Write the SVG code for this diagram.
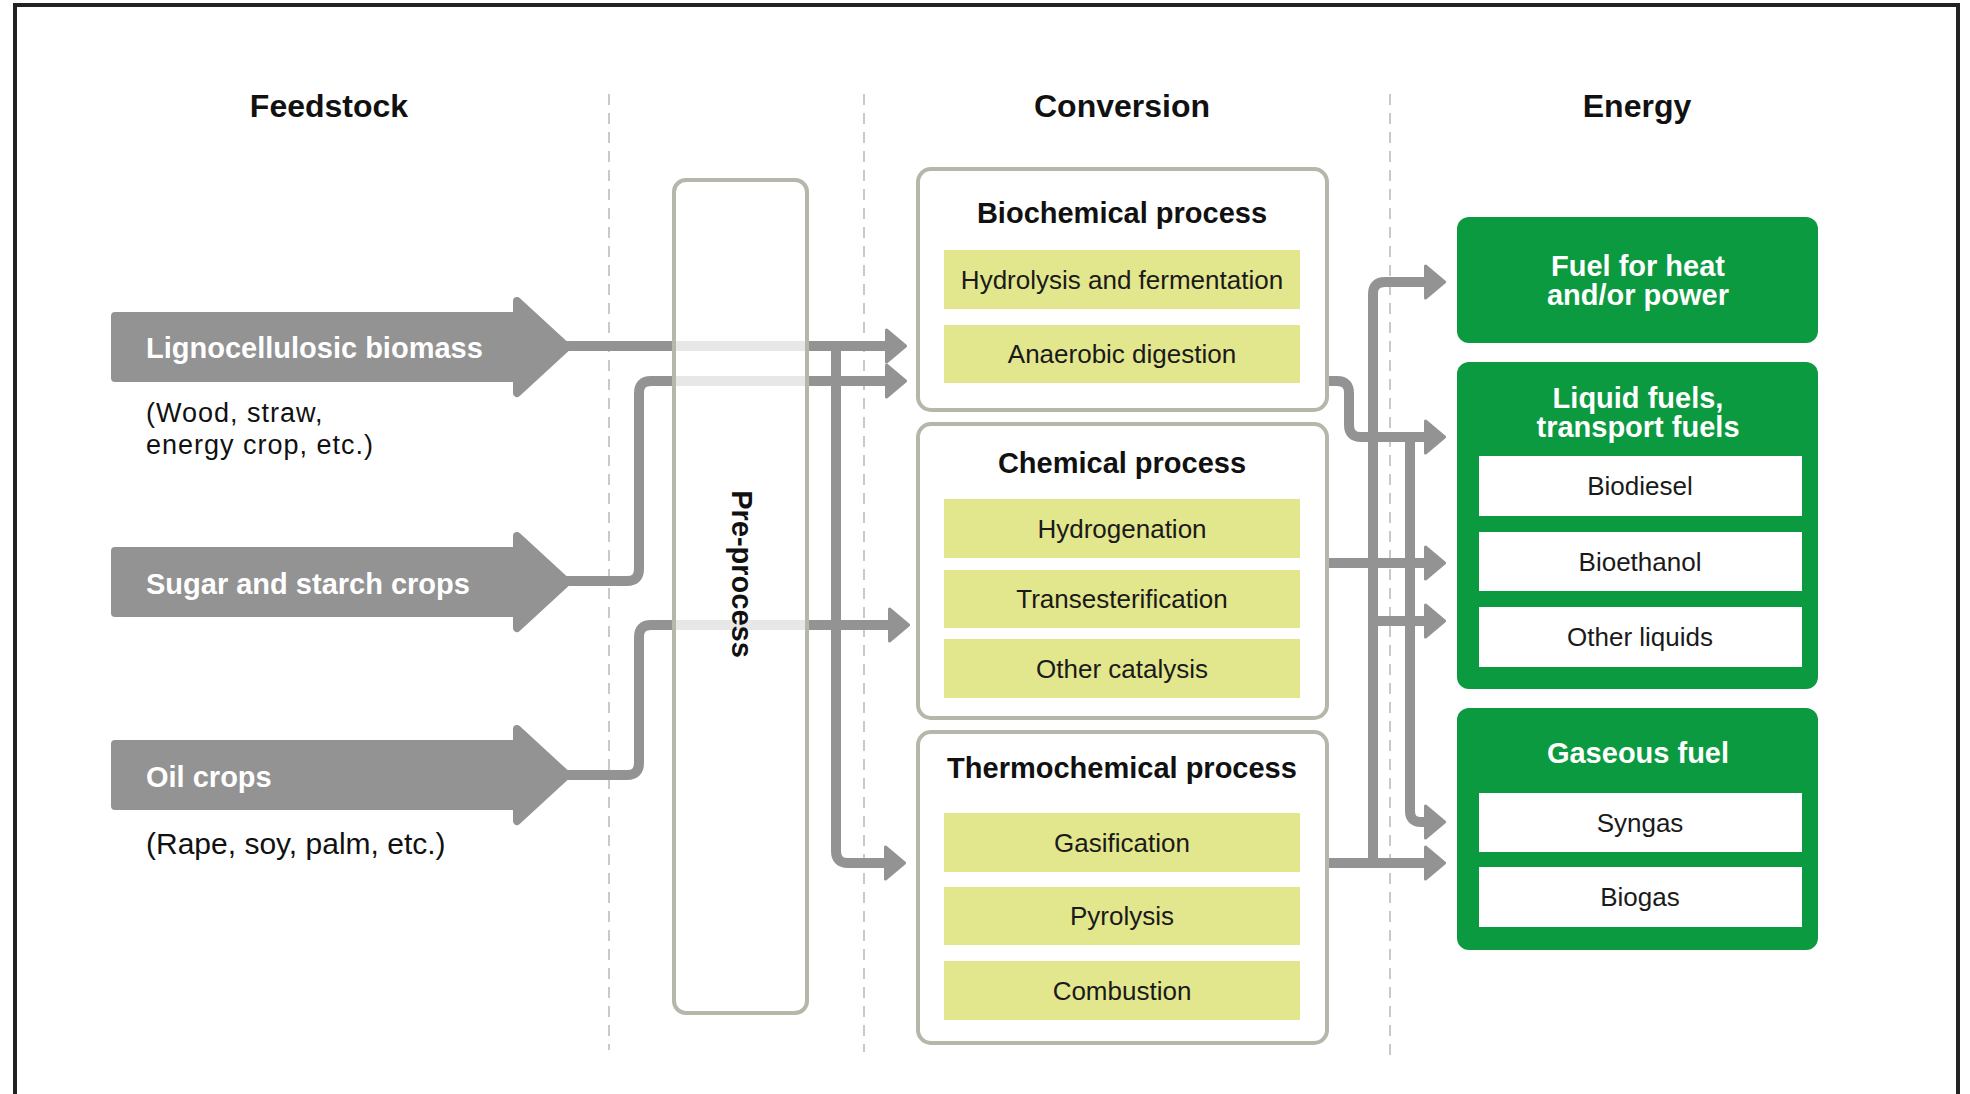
<svg xmlns="http://www.w3.org/2000/svg" width="1970" height="1094" viewBox="0 0 1970 1094">
  <style>
    text { font-family: "Liberation Sans", Arial, sans-serif; }
    .head { font-size: 32px; font-weight: bold; fill: #111; text-anchor: middle; }
    .feed { fill: #939393; stroke: #939393; stroke-width: 8; stroke-linejoin: round; }
    .feedlbl { font-size: 29px; font-weight: bold; fill: #fff; }
    .note { font-size: 30px; fill: #111; }
    .note2 { font-size: 27px; letter-spacing: 1px; fill: #111; }
    .divider { stroke: #c9c9c9; stroke-width: 2; stroke-dasharray: 11 8; fill: none; }
    .frame { fill: #fff; fill-opacity: 0.78; stroke: #b6b6ab; stroke-width: 4; }
    .title { font-size: 29px; font-weight: bold; fill: #111; text-anchor: middle; }
    .step { fill: #e2e68c; }
    .steplbl { font-size: 26px; fill: #1a1a1a; text-anchor: middle; }
    .green { fill: #0b9a3f; }
    .gtitle { font-size: 29px; font-weight: bold; fill: #fff; text-anchor: middle; }
    .item { fill: #fff; }
    .link { fill: none; stroke: #939393; stroke-width: 10; stroke-linejoin: round; }
    .arrow { marker-end: url(#tip); }
  </style>
  <defs>
    <marker id="tip" markerUnits="userSpaceOnUse" viewBox="0 0 22 36" refX="3" refY="18" markerWidth="22" markerHeight="36" orient="auto">
      <path d="M1.5,2 L20.5,18 L1.5,34 Z" fill="#939393" stroke="#939393" stroke-width="3" stroke-linejoin="round"/>
    </marker>
  </defs>

  <!-- outer frame (bottom edge runs off the sheet) -->
  <rect x="15" y="5" width="1943" height="1120" fill="#fff" stroke="#222" stroke-width="4"/>

  <!-- column headings -->
  <text class="head" x="329" y="117">Feedstock</text>
  <text class="head" x="1122" y="117">Conversion</text>
  <text class="head" x="1637" y="117">Energy</text>

  <!-- column dividers -->
  <g id="dividers">
    <line class="divider" x1="609" y1="94" x2="609" y2="1050"/>
    <line class="divider" x1="864" y1="94" x2="864" y2="1052"/>
    <line class="divider" x1="1390" y1="94" x2="1390" y2="1056"/>
  </g>

  <!-- flows between stages -->
  <g id="connectors">
    <path class="link arrow" d="M565,346 H888"/>
    <path class="link arrow" d="M565,581 H627 Q639,581 639,569 V393 Q639,381 651,381 H888"/>
    <path class="link arrow" d="M565,775 H627 Q639,775 639,763 V637 Q639,625 651,625 H891"/>
    <path class="link arrow" d="M836,346 V851 Q836,863 848,863 H887"/>
    <path class="link arrow" d="M1327,863 H1427"/>
    <path class="link arrow" d="M1373,863 V294 Q1373,282 1385,282 H1427"/>
    <path class="link arrow" d="M1373,621 H1427"/>
    <path class="link arrow" d="M1327,381 H1337 Q1349,381 1349,393 V425 Q1349,437 1361,437 H1427"/>
    <path class="link arrow" d="M1410,437 V811 Q1410,822 1421,822 H1427"/>
    <path class="link arrow" d="M1327,563 H1427"/>
  </g>

  <!-- feedstock -->
  <g id="lignocellulosic">
    <path class="feed" d="M115,316 H517 V301 L567,347 L517,393 V378 H115 Z"/>
    <text class="feedlbl" x="146" y="358">Lignocellulosic biomass</text>
    <text class="note2" x="146" y="422">(Wood, straw,</text>
    <text class="note2" x="146" y="454">energy crop, etc.)</text>
  </g>
  <g id="sugar-starch">
    <path class="feed" d="M115,551 H517 V536 L567,582 L517,628 V613 H115 Z"/>
    <text class="feedlbl" x="146" y="594">Sugar and starch crops</text>
  </g>
  <g id="oil-crops">
    <path class="feed" d="M115,744 H517 V729 L567,775 L517,821 V806 H115 Z"/>
    <text class="feedlbl" x="146" y="787">Oil crops</text>
    <text class="note" x="146" y="854">(Rape, soy, palm, etc.)</text>
  </g>

  <!-- pre-process column -->
  <g id="pre-process">
    <rect class="frame" x="674" y="180" width="133" height="833" rx="12"/>
    <text class="title" font-size="28" transform="translate(742,574) rotate(90)" y="10">Pre-process</text>
  </g>

  <!-- conversion -->
  <g id="biochemical">
    <rect class="frame" fill-opacity="1" x="918" y="169" width="409" height="241" rx="13"/>
    <text class="title" x="1122" y="223">Biochemical process</text>
    <rect class="step" x="944" y="250" width="356" height="59"/>
    <text class="steplbl" x="1122" y="289">Hydrolysis and fermentation</text>
    <rect class="step" x="944" y="325" width="356" height="58"/>
    <text class="steplbl" x="1122" y="363">Anaerobic digestion</text>
  </g>
  <g id="chemical">
    <rect class="frame" fill-opacity="1" x="918" y="424" width="409" height="294" rx="13"/>
    <text class="title" x="1122" y="473">Chemical process</text>
    <rect class="step" x="944" y="499" width="356" height="59"/>
    <text class="steplbl" x="1122" y="538">Hydrogenation</text>
    <rect class="step" x="944" y="570" width="356" height="58"/>
    <text class="steplbl" x="1122" y="608">Transesterification</text>
    <rect class="step" x="944" y="639" width="356" height="59"/>
    <text class="steplbl" x="1122" y="678">Other catalysis</text>
  </g>
  <g id="thermochemical">
    <rect class="frame" fill-opacity="1" x="918" y="732" width="409" height="311" rx="13"/>
    <text class="title" x="1122" y="778">Thermochemical process</text>
    <rect class="step" x="944" y="813" width="356" height="59"/>
    <text class="steplbl" x="1122" y="852">Gasification</text>
    <rect class="step" x="944" y="887" width="356" height="58"/>
    <text class="steplbl" x="1122" y="925">Pyrolysis</text>
    <rect class="step" x="944" y="961" width="356" height="59"/>
    <text class="steplbl" x="1122" y="1000">Combustion</text>
  </g>

  <!-- energy -->
  <g id="heat-power">
    <rect class="green" x="1457" y="217" width="361" height="126" rx="12"/>
    <text class="gtitle" x="1638" y="276">Fuel for heat</text>
    <text class="gtitle" x="1638" y="305">and/or power</text>
  </g>
  <g id="liquid-fuels">
    <rect class="green" x="1457" y="362" width="361" height="327" rx="12"/>
    <text class="gtitle" x="1638" y="408">Liquid fuels,</text>
    <text class="gtitle" x="1638" y="437">transport fuels</text>
    <rect class="item" x="1479" y="456" width="323" height="60"/>
    <text class="steplbl" x="1640" y="495">Biodiesel</text>
    <rect class="item" x="1479" y="532" width="323" height="59"/>
    <text class="steplbl" x="1640" y="571">Bioethanol</text>
    <rect class="item" x="1479" y="607" width="323" height="60"/>
    <text class="steplbl" x="1640" y="646">Other liquids</text>
  </g>
  <g id="gaseous-fuel">
    <rect class="green" x="1457" y="708" width="361" height="242" rx="12"/>
    <text class="gtitle" x="1638" y="763">Gaseous fuel</text>
    <rect class="item" x="1479" y="793" width="323" height="59"/>
    <text class="steplbl" x="1640" y="832">Syngas</text>
    <rect class="item" x="1479" y="867" width="323" height="60"/>
    <text class="steplbl" x="1640" y="906">Biogas</text>
  </g>
</svg>
